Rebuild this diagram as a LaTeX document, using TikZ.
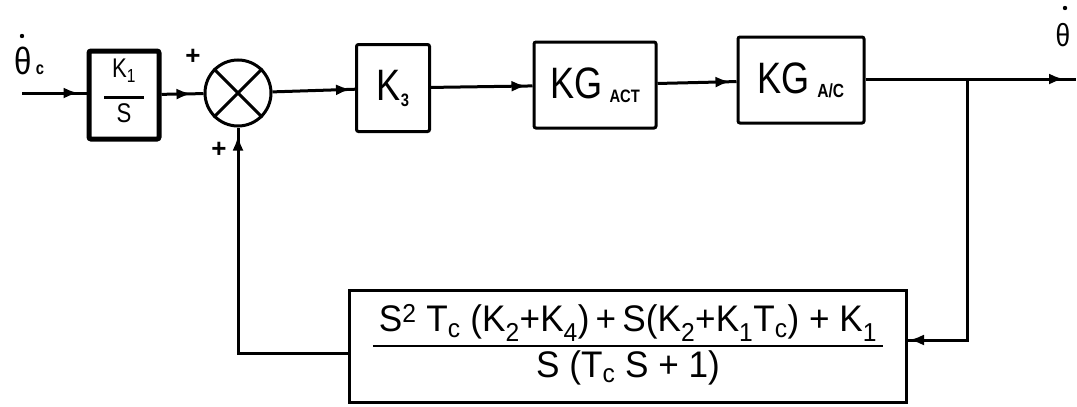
\documentclass[tikz,border=0pt]{standalone}
\usepackage{fontspec}
\setmainfont{Liberation Sans}
\newfontfamily\hand{Liberation Sans}[FakeStretch=0.82]
\newfontfamily\handf{Liberation Sans}[FakeStretch=0.95]
\usetikzlibrary{arrows.meta,decorations.markings}
\begin{document}
\begin{tikzpicture}[x=1pt,y=-1pt,line width=3pt,
  blk/.style={draw,rectangle,rounded corners=2pt,inner sep=0pt,font=\hand\fontsize{44}{44}\selectfont},
  midarr/.style={postaction={decorate},decoration={markings,mark=at position -#1 with {\arrow{Latex[length=15pt,width=11pt]}}}},
  midarr/.default=6pt,
  lbl/.style={inner sep=0pt}]
\useasboundingbox (0,0) rectangle (1077,407);
% blocks
\node[blk,line width=5pt,minimum width=70pt,minimum height=88pt] (k1) at (124,95)
  {\fontsize{27}{27}\selectfont\begin{tabular}{@{}c@{}}K\textsubscript{1}\\[-6pt]\rule{40pt}{2.5pt}\\[-3pt]S\end{tabular}};
\node[draw,circle,minimum size=66pt,inner sep=0pt] (sum) at (238,93) {};
\draw (sum.north west) -- (sum.south east);
\draw (sum.north east) -- (sum.south west);
\node[blk,minimum width=73pt,minimum height=87pt] (k3) at (393,88) {K\raisebox{-6pt}{\fontsize{18}{18}\selectfont\bfseries 3}};
\node[blk,minimum width=122pt,minimum height=86pt] (act) at (595,85) {KG\,\raisebox{-4pt}{\fontsize{18}{18}\selectfont\bfseries ACT}};
\node[blk,minimum width=126pt,minimum height=86pt] (ac) at (801,80) {KG\,\raisebox{-4pt}{\fontsize{19}{19}\selectfont\bfseries A/C}};
\node[draw,rectangle,inner sep=0pt,minimum width=557pt,minimum height=112pt] (fb) at (628,346)
  {\handf\fontsize{37}{37}\selectfont\setlength\arrayrulewidth{2.6pt}\renewcommand\arraystretch{1.15}%
   \begin{tabular}{c}
   S\textsuperscript{2} T\textsubscript{c} (K\textsubscript{2}+K\textsubscript{4})\,+\,S(K\textsubscript{2}+K\textsubscript{1}T\textsubscript{c}) + K\textsubscript{1}\\ \hline
   S (T\textsubscript{c} S + 1)
   \end{tabular}};
% coordinates
\coordinate (in) at (22,93);
\coordinate (br) at (967,79);
\coordinate (out) at (1076,79);
\coordinate (c1) at (967,340);
\coordinate (c2) at (240,353);
% connectors
\draw[midarr=8pt] (in) -- (k1.west|-in);
\draw[midarr=12pt] (k1) -- (sum);
\draw[midarr=4pt] (sum) -- (k3);
\draw[midarr=6pt] (k3) -- (act);
\draw[midarr=6pt] (act) -- (ac);
\draw[midarr=12pt] (ac.east|-br) -- (out);
\draw[midarr=1pt] (br) |- (fb.east|-c1);
\draw[midarr=8pt] (fb.west|-c2) -| (sum.south);
% labels
\node[lbl,font=\hand\fontsize{38}{38}\selectfont] (thc) at (23,61) {θ};
\node[lbl,font=\hand\fontsize{18}{18}\selectfont\bfseries] (thcs) at (40,70) {c};
\fill (22,36) circle (2.2pt);
\node[lbl,font=\hand\fontsize{32}{32}\selectfont] (tho) at (1063,35) {θ};
\fill (1065,8) circle (2.2pt);
\node[lbl,font=\fontsize{26}{26}\selectfont\bfseries] (p1) at (193,57) {+};
\node[lbl,font=\fontsize{26}{26}\selectfont\bfseries] (p2) at (219,150) {+};
\end{tikzpicture}
\end{document}
